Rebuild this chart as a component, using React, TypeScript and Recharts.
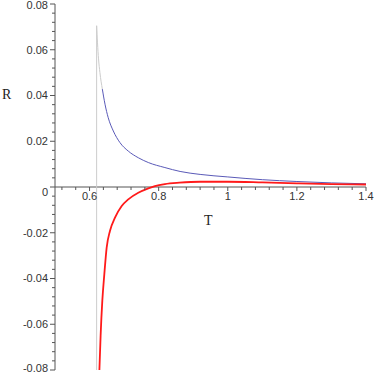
import React from "react";
import { LineChart, Line, XAxis, YAxis, ReferenceLine, ReferenceDot } from "recharts";

// Tick labels
const xMajorTicks = [0.6, 0.8, 1, 1.2, 1.4];
const yMajorTicks = [-0.08, -0.06, -0.04, -0.02, 0, 0.02, 0.04, 0.06, 0.08];

// Series
const greyVerticalT = [0.6205, 0.6205];
const greyVerticalR = [-0.08, 0.0705];

const greyCurveT = [0.6205, 0.623, 0.626, 0.63, 0.637];
const greyCurveR = [0.0705, 0.063, 0.056, 0.05, 0.0428];

const blueT = [0.637, 0.6447, 0.654, 0.6687, 0.688, 0.712, 0.741, 0.77, 0.818, 0.862, 0.92, 1.0, 1.1, 1.2, 1.3, 1.4];
const blueR = [0.0428, 0.0362, 0.0303, 0.0245, 0.0194, 0.0157, 0.0128, 0.0107, 0.0085, 0.0068, 0.0055, 0.0044, 0.0032, 0.0024, 0.0018, 0.0014];

const redT = [0.6285, 0.632, 0.6369, 0.6427, 0.6495, 0.659, 0.6736, 0.693, 0.712, 0.741, 0.77, 0.789, 0.818, 0.86, 0.92, 1.0, 1.1, 1.2, 1.3, 1.4];
const redR = [-0.08, -0.065, -0.0498, -0.0382, -0.0265, -0.0192, -0.0134, -0.0083, -0.0054, -0.0025, -0.0006, 0.0004, 0.0013, 0.0019, 0.0023, 0.0023, 0.002, 0.0016, 0.0013, 0.0011];

const zip = (ts: number[], rs: number[]) => ts.map((T, i) => ({ T, R: rs[i] }));
const greyVertical = zip(greyVerticalT, greyVerticalR);
const greyCurve = zip(greyCurveT, greyCurveR);
const blue = zip(blueT, blueR);
const red = zip(redT, redR);

// minor ticks: subdivide majors
const subdivide = (majors: number[], parts: number, start?: number) => {
  const out: number[] = [];
  for (let i = 0; i < majors.length - 1; i++) {
    const a = majors[i];
    const b = majors[i + 1];
    for (let k = 0; k < parts; k++) out.push(+(a + ((b - a) * k) / parts).toFixed(6));
  }
  out.push(majors[majors.length - 1]);
  if (start !== undefined) {
    const step = (majors[1] - majors[0]) / parts;
    let v = majors[0] - step;
    while (v >= start - 1e-9) {
      out.unshift(+v.toFixed(6));
      v -= step;
    }
  }
  return out;
};
const yAllTicks = subdivide(yMajorTicks, 5);
const xAllTicks = subdivide(xMajorTicks, 5, 0.52);

const isMajor = (v: number, arr: number[]) => arr.some((m) => Math.abs(m - v) < 1e-6);

const AXIS = "#555";
const LABEL = "#333";
const TICKFONT = "'Liberation Sans', Arial, sans-serif";

const YTick = (props: any) => {
  const { x, y, payload } = props;
  const v = payload.value;
  const major = isMajor(v, yMajorTicks);
  let ty = y;
  if (v === 0) ty = y + 5;
  if (v === 0.08) ty = y + 1.5;
  if (v === -0.08) ty = y - 1.5;
  return (
    <g>
      <line x1={x} x2={x - (major ? 5 : 3)} y1={y} y2={y} stroke={AXIS} strokeWidth={1} />
      {major && (
        <text x={x - 7} y={ty} dy="0.35em" textAnchor="end" fontSize={11} fontFamily={TICKFONT} fill={LABEL}>
          {v === 0 ? "0" : String(v)}
        </text>
      )}
    </g>
  );
};

const makeXTickShape = (v: number) => (props: any) => {
  const { cx, cy } = props;
  const major = isMajor(v, xMajorTicks);
  return (
    <g>
      <line x1={cx} x2={cx} y1={cy} y2={cy + (major ? 4 : 3)} stroke={AXIS} strokeWidth={1} />
      {major && (
        <text x={cx} y={cy + 9} dy="0.35em" textAnchor="middle" fontSize={11} fontFamily={TICKFONT} fill={LABEL}>
          {String(v)}
        </text>
      )}
    </g>
  );
};

export default function App() {
  return (
    <div style={{ position: "absolute", left: 0, top: 0, width: 374, height: 374, background: "#fff" }}>
      <LineChart width={374} height={374} margin={{ top: 4, right: 8, bottom: 4, left: 5 }}>
        <XAxis type="number" dataKey="T" domain={[0.5, 1.4]} allowDataOverflow hide />
        <YAxis
          type="number"
          dataKey="R"
          domain={[-0.08, 0.08]}
          allowDataOverflow
          ticks={yAllTicks}
          interval={0}
          width={50}
          tickSize={0}
          tickMargin={0}
          tickLine={false}
          axisLine={{ stroke: AXIS, strokeWidth: 1 }}
          tick={<YTick />}
        />
        <ReferenceLine y={0} stroke={AXIS} strokeWidth={1} />
        {xAllTicks.map((v) => (
          <ReferenceDot key={v} x={v} y={0} r={0} ifOverflow="visible" shape={makeXTickShape(v)} />
        ))}
        <Line data={greyVertical} dataKey="R" type="linear" stroke="#cccccc" strokeWidth={1} dot={false} isAnimationActive={false} />
        <Line data={greyCurve} dataKey="R" type="monotone" stroke="#cccccc" strokeWidth={1} dot={false} isAnimationActive={false} />
        <Line data={blue} dataKey="R" type="monotone" stroke="#5a5ab8" strokeWidth={1} dot={false} isAnimationActive={false} />
        <Line data={red} dataKey="R" type="monotone" stroke="#ff1a1a" strokeWidth={1.8} dot={false} isAnimationActive={false} />
      </LineChart>
      <div style={{ position: "absolute", left: 2, top: 87, fontFamily: "'Liberation Serif', serif", fontSize: 14, color: "#222" }}>R</div>
      <div style={{ position: "absolute", left: 204, top: 213, fontFamily: "'Liberation Serif', serif", fontSize: 14, color: "#222" }}>T</div>
    </div>
  );
}
